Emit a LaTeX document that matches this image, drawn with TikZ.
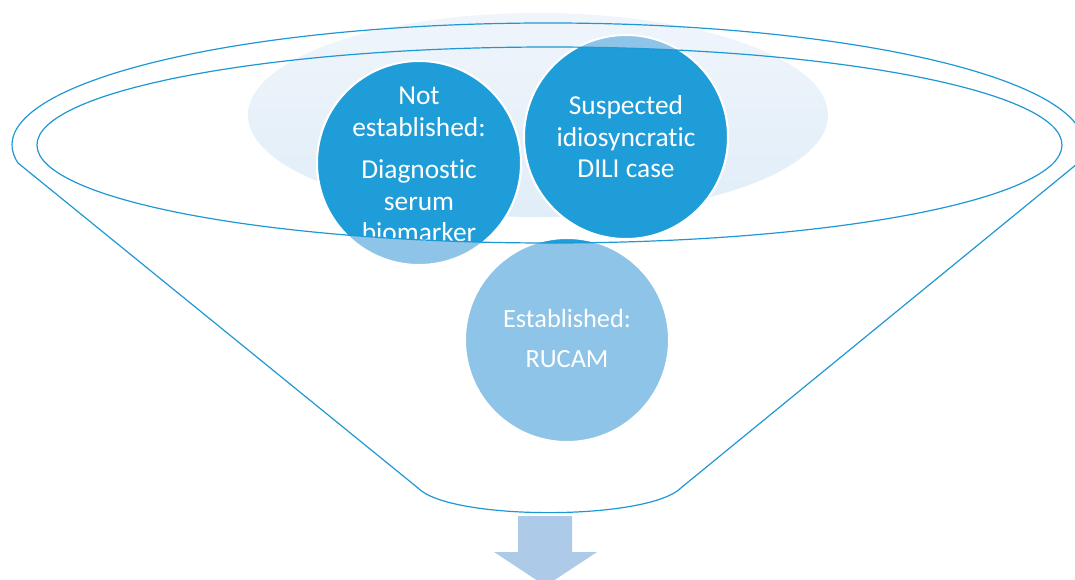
\documentclass[tikz,border=0pt]{standalone}
\usepackage{fontspec}
\setmainfont{Carlito}[Ligatures=NoCommon]
\definecolor{dkblue}{RGB}{31,157,216}
\definecolor{ltblue}{RGB}{142,196,231}
\definecolor{arrblue}{RGB}{173,203,232}
\definecolor{lineblue}{RGB}{30,152,213}
\definecolor{haloTop}{RGB}{240,245,251}
\definecolor{haloBot}{RGB}{224,237,248}
\begin{document}
\begin{tikzpicture}[x=1pt,y=-1pt,
  circ/.style={circle, minimum size=204pt, inner sep=0pt, draw=white, line width=2pt},
  lbl/.style={text=white, align=center, font=\fontsize{27.4}{31.5}\selectfont},
  lblsm/.style={text=white, align=center, font=\fontsize{26.3}{31.5}\selectfont},
  rim/.style={draw=lineblue, line width=1.2pt}]
\useasboundingbox (0,0) rectangle (1075,579);
\begin{scope}
\clip (0,0) rectangle (1075,579);
% light halo
\begin{scope}
\clip (538,115) ellipse [x radius=290pt, y radius=102pt];
\shade[top color=haloTop, bottom color=haloBot] (240,10) rectangle (835,220);
\end{scope}
% light circles
\node[circ, fill=ltblue] (c1) at (419,163) {};
\node[circ, fill=ltblue] (c3) at (567,340) {};
\node[circ, fill=ltblue] (c2) at (626,137) {};
% dark parts inside the funnel mouth
\begin{scope}
\clip (549.5,145) ellipse [x radius=512.5pt, y radius=98pt];
\node[circ, fill=dkblue] (c1d) at (c1) {};
\node[circ, fill=dkblue] (c3d) at (c3) {};
\node[lbl] (t1) at ([yshift=-1.8pt]c1) {Not\\established:\\[11pt]Diagnostic\\serum\\biomarker};
\node[circ, fill=dkblue] (c2d) at (c2) {};
\node[lbl] (t2) at (c2) {Suspected\\idiosyncratic\\DILI case};
\end{scope}
\node[lblsm] (t3) at ([yshift=2pt]c3) {Established:\\[8.5pt]RUCAM};
% funnel outlines
\draw[rim] (549.5,145) ellipse [x radius=512.5pt, y radius=98pt];
\draw[rim] (18,163) arc[start angle=188.5, end angle=-8.5, x radius=536pt, y radius=122pt]
  -- (682,487) .. controls (650,521) and (450,521) .. (418,488) -- cycle;
% down arrow
\fill[arrblue] (518,516) -- (572,516) -- (572,552) -- (597,552) -- (545.5,586) -- (494,552) -- (518,552) -- cycle;
\end{scope}
\end{tikzpicture}
\end{document}
